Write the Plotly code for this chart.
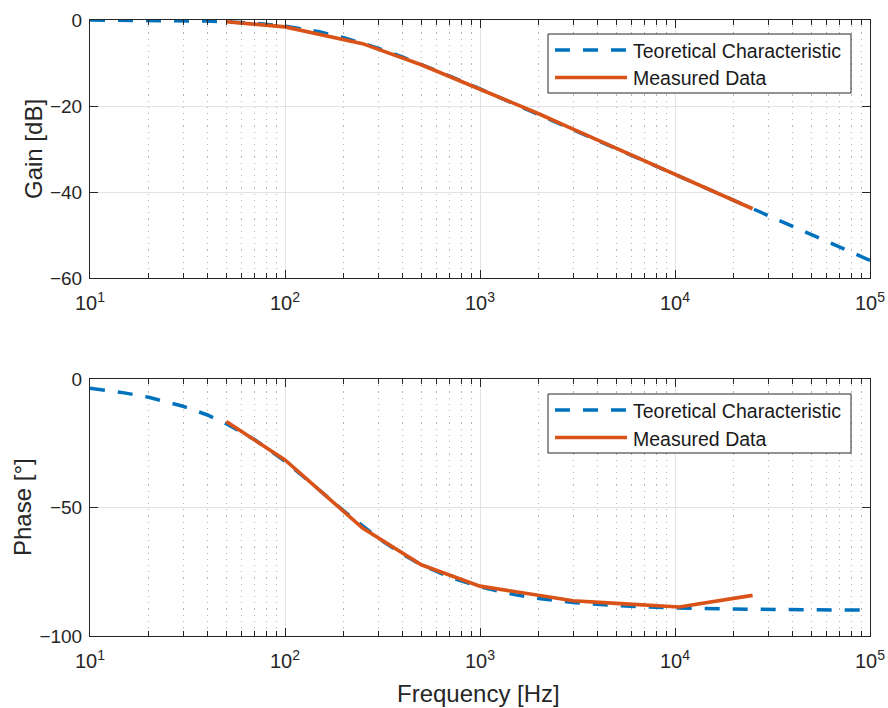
import plotly.graph_objects as go
from plotly.subplots import make_subplots

# Theoretical first-order low-pass characteristic
freq_theory = [10, 15, 20, 30, 40, 50, 70, 100, 150, 200, 300, 400, 500, 700,
               1000, 1500, 2000, 3000, 5000, 7000, 10000, 20000, 30000, 50000,
               70000, 100000]
gain_theory = [-0.02, -0.04, -0.07, -0.15, -0.26, -0.40, -0.76, -1.43, -2.74,
               -4.09, -6.55, -8.60, -10.32, -13.04, -16.03, -19.49, -21.97,
               -25.47, -29.90, -32.82, -35.92, -41.94, -45.46, -49.90, -52.82,
               -55.92]
phase_theory = [-3.6, -5.4, -7.1, -10.6, -14.0, -17.4, -23.6, -32.0, -43.2,
                -51.3, -61.9, -68.2, -72.3, -77.1, -80.9, -83.9, -85.4, -87.0,
                -88.2, -88.7, -89.1, -89.5, -89.7, -89.8, -89.9, -89.9]

# Measured data
freq_meas = [50, 100, 250, 500, 1000, 2000, 3000, 5000, 10500, 25000]
gain_meas = [-0.4, -1.6, -5.5, -10.4, -16.1, -21.8, -25.4, -29.9, -36.3, -43.9]
phase_meas = [-16.5, -31.5, -58.0, -72.3, -80.6, -84.2, -86.3, -87.3, -88.7, -84.2]

x_tickvals = [10, 100, 1000, 10000, 100000]
x_ticktext = ["10<sup>1</sup>", "10<sup>2</sup>", "10<sup>3</sup>",
              "10<sup>4</sup>", "10<sup>5</sup>"]
gain_ticks = [0, -20, -40, -60]
phase_ticks = [0, -50, -100]
legend_names = ["Teoretical Characteristic", "Measured Data"]

W, H = 888, 708
BLUE = "#0072BD"
ORANGE = "#D95319"
AX = "#262626"
FONT = "Liberation Sans, Arial, sans-serif"

minor_vals = [m * 10 ** d for d in range(1, 5) for m in range(2, 10)]


def px(x):
    return x / W


def py(y):
    return 1 - y / H


def tick_label(v):
    return str(v).replace("-", "\u2212")


fig = make_subplots(rows=2, cols=1)

for row, (yt, ym) in enumerate([(gain_theory, gain_meas),
                                 (phase_theory, phase_meas)], start=1):
    fig.add_trace(go.Scatter(x=freq_theory, y=yt, mode="lines",
                             line=dict(color=BLUE, width=3.5, dash="15px,13px"),
                             name=legend_names[0], showlegend=False), row=row, col=1)
    fig.add_trace(go.Scatter(x=freq_meas, y=ym, mode="lines",
                             line=dict(color=ORANGE, width=3.6),
                             name=legend_names[1], showlegend=False), row=row, col=1)

xaxis_style = dict(
    type="log", range=[1, 5], tickvals=x_tickvals, ticktext=x_ticktext,
    ticks="inside", ticklen=8, tickcolor=AX, showline=True, linecolor=AX,
    linewidth=1, mirror="allticks", showgrid=True, gridcolor="#e3e3e3",
    gridwidth=1, zeroline=False, automargin=False,
    tickfont=dict(family=FONT, size=20, color=AX),
    ticklabelstandoff=7,
    minor=dict(tickvals=minor_vals, ticks="inside", ticklen=5, tickcolor=AX,
               showgrid=True, gridcolor="#b4b4b4", griddash="1.2px,5px",
               gridwidth=1),
)
fig.update_xaxes(**xaxis_style)

yaxis_style = dict(
    ticks="inside", ticklen=8, tickcolor=AX, showline=True, linecolor=AX,
    linewidth=1, mirror="allticks", showgrid=True, gridcolor="#e3e3e3",
    gridwidth=1, zeroline=False, automargin=False,
    tickfont=dict(family=FONT, size=19, color=AX),
    ticklabelstandoff=3,
)
fig.update_yaxes(**yaxis_style)

fig.update_layout(
    xaxis=dict(domain=[px(90), px(870)]),
    xaxis2=dict(domain=[px(90), px(870)]),
    yaxis=dict(domain=[py(278), py(20)], range=[-60, 0],
               tickvals=gain_ticks, ticktext=[tick_label(v) for v in gain_ticks]),
    yaxis2=dict(domain=[py(636), py(379)], range=[-100, 0],
                tickvals=phase_ticks, ticktext=[tick_label(v) for v in phase_ticks]),
)

# Axis titles
titles = [
    ("Gain [dB]", 33, 149, -90),
    ("Phase [°]", 22, 507, -90),
    ("Frequency [Hz]", 478, 693, 0),
]
for text, x, y, ang in titles:
    fig.add_annotation(text=text, x=px(x), y=py(y), xref="paper", yref="paper",
                       showarrow=False, textangle=ang, xanchor="center",
                       yanchor="middle",
                       font=dict(family=FONT, size=24, color=AX))

# Legend boxes, one per panel
for top in (34, 394):
    fig.add_shape(type="rect", xref="paper", yref="paper",
                  x0=px(548), x1=px(851), y0=py(top), y1=py(top + 59),
                  line=dict(color=AX, width=1), fillcolor="white", layer="above")
    rows = [(top + 16, BLUE, "15px,13px", legend_names[0]),
            (top + 43.5, ORANGE, "solid", legend_names[1])]
    for y, color, dash, name in rows:
        fig.add_shape(type="line", xref="paper", yref="paper",
                      x0=px(555), x1=px(627), y0=py(y), y1=py(y),
                      line=dict(color=color, width=3.6, dash=dash), layer="above")
        fig.add_annotation(text=name, x=px(631), y=py(y + 1), xref="paper",
                           yref="paper", showarrow=False, xanchor="left",
                           yanchor="middle",
                           font=dict(family=FONT, size=19.5, color="#1a1a1a"))

fig.update_layout(
    template="none",
    width=W, height=H, margin=dict(l=0, r=0, t=0, b=0),
    paper_bgcolor="white", plot_bgcolor="white", showlegend=False,
    font=dict(family=FONT, color=AX),
)

fig.write_html("out.html")
